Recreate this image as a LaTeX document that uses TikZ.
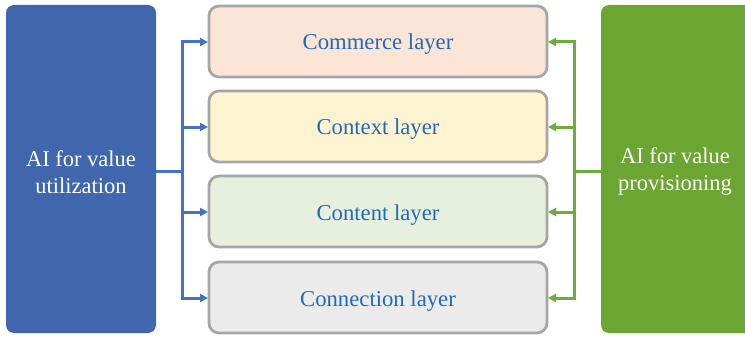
\documentclass[tikz,border=0pt]{standalone}
\usepackage{fontspec}
\setmainfont{Liberation Serif}
\newfontfamily\tnr{Liberation Serif}
\usetikzlibrary{arrows.meta}
\definecolor{bluebox}{HTML}{4066AE}
\definecolor{greenbox}{HTML}{6BA532}
\definecolor{bline}{HTML}{4472C4}
\definecolor{gline}{HTML}{6FAD3B}
\definecolor{ltext}{HTML}{1F6BBA}
\definecolor{lborder}{HTML}{A6A6A6}
\definecolor{fcommerce}{HTML}{FBE5D6}
\definecolor{fcontext}{HTML}{FFF4D2}
\definecolor{fcontent}{HTML}{E7F0DE}
\definecolor{fconnection}{HTML}{EBEBEB}
\begin{document}
\begin{tikzpicture}[x=1pt,y=-1pt,
  side/.style={text=white, font=\tnr\fontsize{22.5}{27}\selectfont, align=center},
  layer/.style={draw=lborder, line width=2.8pt, rounded corners=10pt},
  ltxt/.style={text=ltext, font=\tnr\fontsize{22.7}{27}\selectfont, anchor=base},
  conn/.style={line width=3pt},
  barrow/.style={draw=bline, line width=3pt, -{Triangle[length=8pt,width=8pt]}},
  garrow/.style={draw=gline, line width=3pt, -{Triangle[length=8pt,width=8pt]}}]
\useasboundingbox (0,0) rectangle (745,337);
\clip (0,0) rectangle (745,337);
% side boxes
\fill[bluebox, rounded corners=8pt] (6,5) rectangle (156,333);
\node[side] (util) at (81,172) {AI for value\\utilization};
\fill[greenbox, rounded corners=8pt] (601,5) rectangle (770,333);
\node[side] (prov) at (675,172) {AI for value\\provisioning};
% layers
\draw[layer, fill=fcommerce] (209,6) rectangle (547,77);
\draw[layer, fill=fcontext] (209,91) rectangle (547,162);
\draw[layer, fill=fcontent] (209,176) rectangle (547,247);
\draw[layer, fill=fconnection] (209,262) rectangle (547,333);
\node[ltxt] (commerce) at (378,50) {Commerce layer};
\node[ltxt] (context) at (378,135) {Context layer};
\node[ltxt] (content) at (378,220) {Content layer};
\node[ltxt] (connection) at (378,306) {Connection layer};
% connector anchors
\coordinate (ul) at (156,171);
\coordinate (ut) at (182,171);
\coordinate (pl) at (601,171);
\coordinate (pt) at (574,171);
\coordinate (l1) at (208,42);
\coordinate (l2) at (208,127);
\coordinate (l3) at (208,212);
\coordinate (l4) at (208,298);
\coordinate (r1) at (548,42);
\coordinate (r2) at (548,127);
\coordinate (r3) at (548,212);
\coordinate (r4) at (548,298);
% blue connectors
\draw[bline, conn] (ul) -- (ut);
\draw[bline, conn] (182,42) -- (182,298);
\draw[barrow] (180.5,42) -- (l1);
\draw[barrow] (180.5,127) -- (l2);
\draw[barrow] (180.5,212) -- (l3);
\draw[barrow] (180.5,298) -- (l4);
% green connectors
\draw[gline, conn] (pl) -- (pt);
\draw[gline, conn] (574,42) -- (574,298);
\draw[garrow] (575.5,42) -- (r1);
\draw[garrow] (575.5,127) -- (r2);
\draw[garrow] (575.5,212) -- (r3);
\draw[garrow] (575.5,298) -- (r4);
\end{tikzpicture}
\end{document}
